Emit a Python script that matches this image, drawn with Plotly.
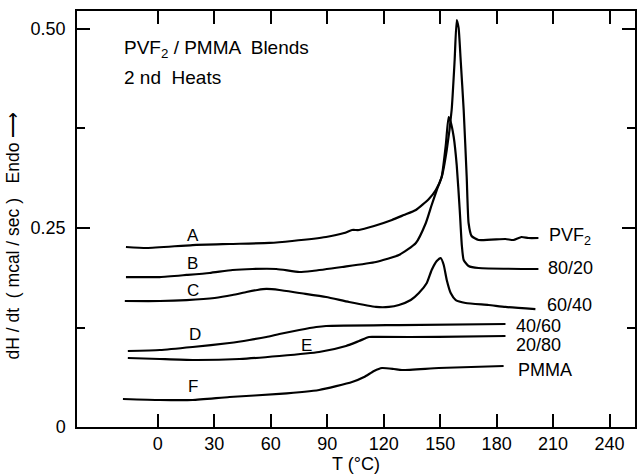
import plotly.graph_objects as go

# DSC second-heat traces for PVF2 / PMMA blends: temperature (deg C) and dH/dt (mcal/sec)
T_A = [-16.9, -5.8, 18.5, 38.1, 59.3, 71.4, 89.4, 99.0, 103.2, 106.9, 114.9, 124.4, 130.7,
       137.1, 144.0, 147.7, 150.8, 153.5, 156.1, 157.7, 158.8, 159.8, 160.9, 162.5, 164.1,
       165.1, 166.7, 170.4, 184.7, 188.9, 193.2, 196.9, 202.2]
dH_A = [0.2261, 0.2249, 0.2286, 0.2299, 0.2312, 0.2337, 0.2387, 0.2437, 0.2475, 0.2475, 0.2525,
        0.2601, 0.2663, 0.2726, 0.2864, 0.2977, 0.3141, 0.3480, 0.3982, 0.4611, 0.5113, 0.5013,
        0.4611, 0.3982, 0.3141, 0.2563, 0.2399, 0.2349, 0.2362, 0.2349, 0.2387, 0.2374, 0.2374]

T_B = [-16.9, 1.1, 15.3, 27.5, 39.7, 50.3, 63.0, 75.2, 82.0, 97.9, 115.9, 128.1, 137.1, 142.4,
       145.5, 148.2, 150.8, 153.0, 154.5, 155.6, 157.2, 158.8, 160.4, 161.5, 162.5, 165.1,
       170.4, 202.2]
dH_B = [0.1884, 0.1884, 0.1910, 0.1935, 0.1972, 0.1985, 0.1985, 0.1947, 0.1960, 0.2010, 0.2073,
        0.2161, 0.2312, 0.2563, 0.2789, 0.2977, 0.3141, 0.3543, 0.3894, 0.3832, 0.3643, 0.3291,
        0.2726, 0.2286, 0.2098, 0.2023, 0.1997, 0.1985]

T_C = [-17.5, 1.1, 15.3, 30.2, 39.7, 47.1, 52.9, 57.7, 64.6, 75.2, 89.4, 101.6, 115.9, 122.8,
       128.1, 134.4, 138.7, 142.9, 145.5, 148.2, 150.3, 151.9, 153.5, 155.6, 158.3, 163.5,
       175.7, 184.7, 200.6]
dH_C = [0.1583, 0.1583, 0.1595, 0.1621, 0.1658, 0.1696, 0.1721, 0.1734, 0.1721, 0.1683, 0.1633,
        0.1570, 0.1508, 0.1508, 0.1533, 0.1595, 0.1683, 0.1809, 0.1972, 0.2085, 0.2123, 0.2035,
        0.1847, 0.1683, 0.1595, 0.1558, 0.1533, 0.1508, 0.1482]

T_D = [-15.9, 1.1, 18.5, 38.1, 48.7, 57.7, 64.6, 75.2, 84.2, 89.4, 128.1, 184.7]
dH_D = [0.0955, 0.0967, 0.1005, 0.1055, 0.1093, 0.1131, 0.1168, 0.1219, 0.1256, 0.1269, 0.1281,
        0.1294]

T_E = [-15.9, 1.1, 18.5, 43.4, 64.6, 85.7, 100.0, 106.9, 112.2, 117.5, 149.3, 184.7]
dH_E = [0.0867, 0.0854, 0.0842, 0.0854, 0.0892, 0.0942, 0.1018, 0.1080, 0.1131, 0.1131, 0.1131,
        0.1143]

T_F = [-18.5, 1.1, 18.5, 38.1, 64.6, 85.7, 103.2, 109.6, 114.9, 119.1, 125.4, 129.7, 149.3, 183.7]
dH_F = [0.0352, 0.0339, 0.0339, 0.0377, 0.0415, 0.0465, 0.0565, 0.0628, 0.0704, 0.0741, 0.0729,
        0.0716, 0.0741, 0.0766]

curves = [(T_A, dH_A), (T_B, dH_B), (T_C, dH_C), (T_D, dH_D), (T_E, dH_E), (T_F, dH_F)]

# curve letters and their positions (T, dH)
letters = ["A", "B", "C", "D", "E", "F"]
letter_T = [18.5, 18.5, 18.5, 19.6, 78.9, 18.5]
letter_dH = [0.240, 0.206, 0.172, 0.1156, 0.1030, 0.0503]

# blend composition labels at the right end of each trace
comps = ["PVF<sub>2</sub>", "80/20", "60/40", "40/60", "20/80", "PMMA"]
comp_T = [206.5, 206.0, 205.5, 189.0, 189.0, 190.5]
comp_dH = [0.2387, 0.1997, 0.1533, 0.1269, 0.1030, 0.0716]

x_ticks = [0, 30, 60, 90, 120, 150, 180, 210, 240]
y_ticks = [0, 0.25, 0.50]
y_ticktext = ["0", "0.25", "0.50"]

FONT = "Liberation Sans"

fig = go.Figure()
for T, dH in curves:
    fig.add_trace(go.Scatter(x=T, y=dH, mode="lines",
                             line=dict(color="black", width=2.2, shape="spline", smoothing=0.5),
                             hoverinfo="skip", showlegend=False))

annotations = []
for s, tx, ty in zip(letters, letter_T, letter_dH):
    annotations.append(dict(x=tx, y=ty, xref="x", yref="y", text=s, showarrow=False,
                            xanchor="center", yanchor="middle",
                            font=dict(family=FONT, size=17, color="black")))
for s, tx, ty in zip(comps, comp_T, comp_dH):
    annotations.append(dict(x=tx, y=ty, xref="x", yref="y", text=s, showarrow=False,
                            xanchor="left", yanchor="middle",
                            font=dict(family=FONT, size=18, color="black")))

annotations += [
    dict(x=0.080, y=0.9087, xref="paper", yref="paper", xanchor="left", yanchor="middle",
         text="PVF<sub>2</sub> / PMMA  Blends", showarrow=False,
         font=dict(family=FONT, size=19, color="black")),
    dict(x=0.080, y=0.8413, xref="paper", yref="paper", xanchor="left", yanchor="middle",
         text="2 nd  Heats", showarrow=False,
         font=dict(family=FONT, size=19, color="black")),
    dict(x=-0.114, y=0.4615, xref="paper", yref="paper", xanchor="center", yanchor="middle",
         text="dH / dt  ( mcal / sec )   Endo ⟶", textangle=-90, showarrow=False,
         font=dict(family=FONT, size=17.5, color="black")),
]

fig.update_layout(
    width=637, height=475,
    margin=dict(l=77, r=0, t=11, b=48),
    paper_bgcolor="white", plot_bgcolor="white",
    font=dict(family=FONT, color="black"),
    annotations=annotations,
    xaxis=dict(
        range=[-42.9, 253.5], tickvals=x_ticks, ticks="inside", ticklen=13, tickwidth=1.5,
        tickcolor="black", showline=True, linecolor="black", linewidth=1.5, mirror="ticks",
        showgrid=False, zeroline=False, tickfont=dict(family=FONT, size=18, color="black"),
        title=dict(text="T (°C)", font=dict(family=FONT, size=18, color="black"), standoff=2),
    ),
    yaxis=dict(
        range=[0, 0.5226], tickvals=y_ticks, ticktext=y_ticktext, ticks="inside", ticklen=13,
        tickwidth=1.5, tickcolor="black", showline=True, linecolor="black", linewidth=1.5,
        mirror="ticks", showgrid=False, zeroline=False,
        tickfont=dict(family=FONT, size=18, color="black"), ticklabelstandoff=6,
        minor=dict(tickvals=[0.125, 0.375], ticks="inside", ticklen=8, tickwidth=1.5,
                   tickcolor="black", showgrid=False),
    ),
)

fig.write_html("out.html")
